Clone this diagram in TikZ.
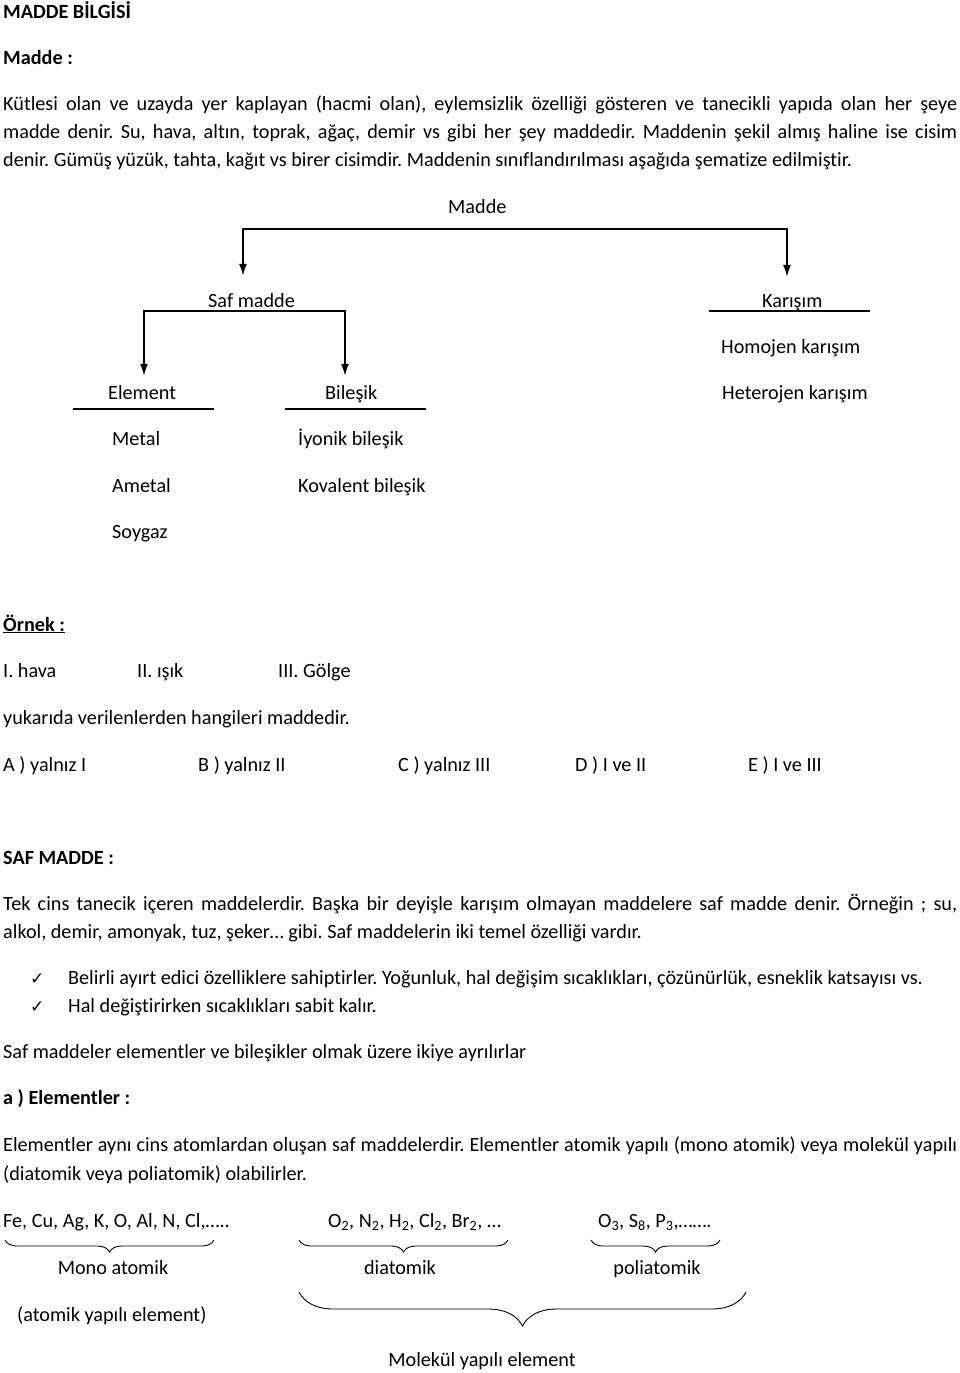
\documentclass[tikz,border=0pt]{standalone}
\usepackage{fontspec}
\setmainfont{Carlito}[Ligatures=NoCommon]
\newfontfamily\symfont{DejaVu Sans}
\usetikzlibrary{arrows.meta,decorations.pathreplacing}
\frenchspacing

\tikzset{
  txt/.style={anchor=base west, inner sep=0pt, font=\fontsize{20.2}{24}\selectfont},
  bold/.style={txt, font=\fontsize{20.2}{24}\selectfont\bfseries},
  tree/.style={line width=1.6pt, {Latex[length=12pt,width=8pt]}-{Latex[length=12pt,width=8pt]}},
  rule/.style={line width=1.6pt},
  brace/.style={decorate, decoration={brace, mirror, amplitude=#1}, line width=0.9pt},
}

\begin{document}
\begin{tikzpicture}[x=1pt,y=-1pt]
\useasboundingbox (0,0) rectangle (960,1373);
% giris
\node[bold] (baslik) at (3,18) {MADDE BİLGİSİ};
\node[bold] (maddeh) at (3,64) {Madde :};
\node[txt] (p1) at (3,110) {\makebox[954pt][s]{Kütlesi olan ve uzayda yer kaplayan (hacmi olan), eylemsizlik özelliği gösteren ve tanecikli yapıda olan her şeye}};
\node[txt] (p2) at (3,138) {\makebox[954pt][s]{madde denir. Su, hava, altın, toprak, ağaç, demir vs gibi her şey maddedir. Maddenin şekil almış haline ise cisim}};
\node[txt] (p3) at (3,166) {denir. Gümüş yüzük, tahta, kağıt vs birer cisimdir. Maddenin sınıflandırılması aşağıda şematize edilmiştir.};

% sema
\node[txt] (madde) at (448,213) {Madde};
\node[txt] (saf) at (208,307) {Saf madde};
\node[txt] (karisim) at (762,307) {Karışım};
\node[txt] (homojen) at (721,353) {Homojen karışım};
\node[txt] (element) at (108,399) {Element};
\node[txt] (bilesik) at (325,399) {Bileşik};
\node[txt] (heterojen) at (722,399) {Heterojen karışım};
\node[txt] (metal) at (112,445) {Metal};
\node[txt] (ametal) at (112,492) {Ametal};
\node[txt] (soygaz) at (112,538) {Soygaz};
\node[txt] (iyonik) at (298,445) {İyonik bileşik};
\node[txt] (kovalent) at (298,492) {Kovalent bileşik};

\coordinate (sol) at (243,229);
\coordinate (sag) at (787,229);
\coordinate (esol) at (144,311);
\coordinate (bsag) at (345,311);
\draw[tree, shorten <=17pt, shorten >=17pt] (sol |- saf.north) |- (sag) -- (sag |- karisim.north);
\draw[tree, shorten <=9pt, shorten >=9pt] (esol |- element.north) |- (bsag) -- (bsag |- bilesik.north);
\draw[rule] (709,311) -- (870,311);
\draw[rule] (73,409) -- (214,409);
\draw[rule] (285,409) -- (426,409);

% ornek
\node[bold] (ornek) at (3,631) {\underline{Örnek :}};
\node[txt] (s1) at (3,677) {I. hava};
\node[txt] (s2) at (137,677) {II. ışık};
\node[txt] (s3) at (278,677) {III. Gölge};
\node[txt] (soru) at (3,724) {yukarıda verilenlerden hangileri maddedir.};
\node[txt] (ca) at (3,771) {A ) yalnız I};
\node[txt] (cb) at (198,771) {B ) yalnız II};
\node[txt] (cc) at (398,771) {C ) yalnız III};
\node[txt] (cd) at (575,771) {D ) I ve II};
\node[txt] (ce) at (748,771) {E ) I ve III};

% saf madde
\node[bold] (safh) at (3,864) {SAF MADDE :};
\node[txt] (p4) at (3,910) {\makebox[954pt][s]{Tek cins tanecik içeren maddelerdir. Başka bir deyişle karışım olmayan maddelere saf madde denir. Örneğin ; su,}};
\node[txt] (p5) at (3,938) {alkol, demir, amonyak, tuz, şeker… gibi. Saf maddelerin iki temel özelliği vardır.};
\node[txt, font=\fontsize{17}{20}\symfont] (tik1) at (30,984) {✓};
\node[txt] (oz1) at (68,984) {Belirli ayırt edici özelliklere sahiptirler. Yoğunluk, hal değişim sıcaklıkları, çözünürlük, esneklik katsayısı vs.};
\node[txt, font=\fontsize{17}{20}\symfont] (tik2) at (30,1012) {✓};
\node[txt] (oz2) at (68,1012) {Hal değiştirirken sıcaklıkları sabit kalır.};
\node[txt] (p6) at (3,1058) {Saf maddeler elementler ve bileşikler olmak üzere ikiye ayrılırlar};

% elementler
\node[bold] (elh) at (3,1104) {a ) Elementler :};
\node[txt] (p7) at (3,1151) {\makebox[954pt][s]{Elementler aynı cins atomlardan oluşan saf maddelerdir. Elementler atomik yapılı (mono atomik) veya molekül yapılı}};
\node[txt] (p8) at (3,1180) {(diatomik veya poliatomik) olabilirler.};
\node[txt] (mono) at (3,1227) {Fe, Cu, Ag, K, O, Al, N, Cl,…..};
\node[txt] (di) at (328,1227) {O\textsubscript{2}, N\textsubscript{2}, H\textsubscript{2}, Cl\textsubscript{2}, Br\textsubscript{2}, …};
\node[txt] (poli) at (598,1227) {O\textsubscript{3}, S\textsubscript{8}, P\textsubscript{3},…….};
\draw[brace=12pt] (5,1240) -- (214,1240);
\draw[brace=12pt] (299,1240) -- (508,1240);
\draw[brace=12pt] (591,1240) -- (720,1240);
\node[txt, anchor=base] (monol) at (113,1274) {Mono atomik};
\node[txt, anchor=base] (dil) at (400,1274) {diatomik};
\node[txt, anchor=base] (polil) at (657,1274) {poliatomik};
\node[txt] (atomik) at (17,1321) {(atomik yapılı element)};
\draw[brace=34pt] (299,1292) -- (746,1292);
\node[txt, anchor=base] (molekul) at (482,1366) {Molekül yapılı element};
\end{tikzpicture}
\end{document}
